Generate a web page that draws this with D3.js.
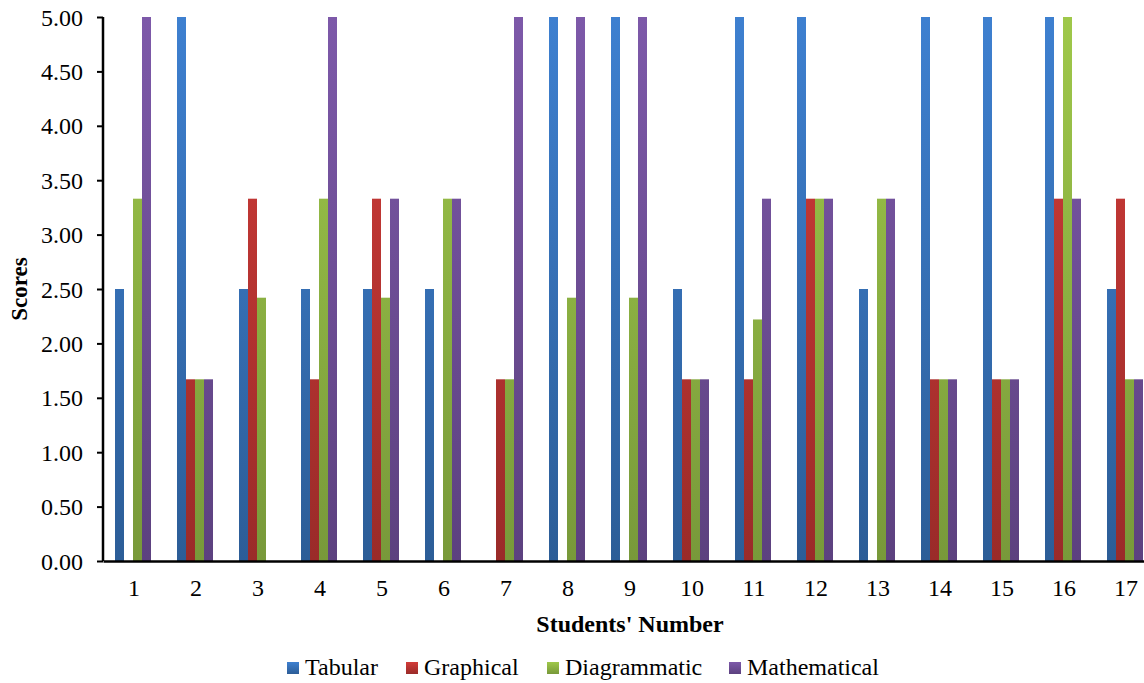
<!DOCTYPE html>
<html><head><meta charset="utf-8">
<script src="https://cdn.jsdelivr.net/npm/d3@7"></script>
<style>body{margin:0;background:#fff}svg{display:block}</style>
</head><body>
<svg id="c" width="1144" height="683"></svg>
<script>
const categories = ["1","2","3","4","5","6","7","8","9","10","11","12","13","14","15","16","17"];
const seriesNames = ["Tabular","Graphical","Diagrammatic","Mathematical"];
const tabular      = [2.5,5,2.5,2.5,2.5,2.5,0,5,5,2.5,5,5,2.5,5,5,5,2.5];
const graphical    = [0,1.67,3.33,1.67,3.33,0,1.67,0,0,1.67,1.67,3.33,0,1.67,1.67,3.33,3.33];
const diagrammatic = [3.33,1.67,2.42,3.33,2.42,3.33,1.67,2.42,2.42,1.67,2.22,3.33,3.33,1.67,1.67,5,1.67];
const mathematical = [5,1.67,0,5,3.33,3.33,5,5,5,1.67,3.33,3.33,3.33,1.67,1.67,3.33,1.67];
const yTicks = [0,0.5,1,1.5,2,2.5,3,3.5,4,4.5,5];
const seriesValues = [tabular, graphical, diagrammatic, mathematical];
const colorsTop = ["#3e80d0","#d23c39","#9fc84a","#7d59a9"];
const colorsBot = ["#2c5d97","#9a2b29","#78993a","#5c417f"];

const svg = d3.select("#c");
const x0 = 103, yTop = 17, yBot = 561;
const x = d3.scaleBand().domain(categories).range([x0, x0 + 17*62]).paddingInner(0).paddingOuter(0);
const y = d3.scaleLinear().domain([0,5]).range([yBot, yTop]);
const barW = 9;
const xs = d3.scaleBand().domain(seriesNames).range([0, barW*4]);

const defs = svg.append("defs");
seriesNames.forEach((s,i)=>{
  const g = defs.append("linearGradient").attr("id","g"+i).attr("x1",0).attr("x2",0)
    .attr("gradientUnits","userSpaceOnUse").attr("y1",yTop).attr("y2",yBot);
  g.append("stop").attr("offset",0).attr("stop-color",colorsTop[i]);
  g.append("stop").attr("offset",1).attr("stop-color",colorsBot[i]);
  const lg = defs.append("linearGradient").attr("id","l"+i).attr("x1",0).attr("y1",0).attr("x2",0).attr("y2",1);
  lg.append("stop").attr("offset",0).attr("stop-color",colorsTop[i]);
  lg.append("stop").attr("offset",1).attr("stop-color",colorsBot[i]);
});

const groups = svg.append("g").selectAll("g").data(categories).join("g")
  .attr("transform", d => `translate(${x(d) + x.bandwidth()/2 - barW*2 - 1},0)`);
groups.selectAll("rect").data((d,ci)=>seriesNames.map((s,si)=>({s,si,v:seriesValues[si][ci]})))
  .join("rect")
  .attr("x", d=>xs(d.s)).attr("width", barW)
  .attr("y", d=>y(d.v)).attr("height", d=>yBot - y(d.v))
  .attr("fill", d=>`url(#g${d.si})`);

// Y axis
const ya = svg.append("g").attr("transform",`translate(${x0},0)`)
  .call(d3.axisLeft(y).tickValues(yTicks).tickFormat(d3.format(".2f")).tickSize(6).tickPadding(14));
ya.select(".domain").attr("stroke","#000").attr("stroke-width",2.5).attr("d",`M0,${yTop}V${yBot}`);
ya.selectAll(".tick line").attr("stroke","#000").attr("stroke-width",2);
ya.selectAll("text").style("font-size","24px").attr("dy","0.34em");

// X axis
const xa = svg.append("g").attr("transform",`translate(0,${yBot})`)
  .call(d3.axisBottom(x).tickSize(0).tickPadding(18));
xa.select(".domain").attr("stroke","#000").attr("stroke-width",2.5);
xa.selectAll("text").style("font-size","24px");

svg.append("text").attr("transform","translate(27,289) rotate(-90)").attr("text-anchor","middle")
  .style("font-size","23px").style("font-weight","bold").text("Scores");
svg.append("text").attr("x",630).attr("y",632).attr("text-anchor","middle")
  .style("font-size","24px").style("font-weight","bold").text("Students' Number");

// Legend
const legX = [287, 406, 547, 729];
const leg = svg.append("g");
seriesNames.forEach((s,i)=>{
  leg.append("rect").attr("x",legX[i]).attr("y",662).attr("width",12).attr("height",12).attr("fill",`url(#l${i})`);
  leg.append("text").attr("x",legX[i]+18).attr("y",675).style("font-size","24px").text(s);
});

svg.selectAll("text").style("font-family",'"Liberation Serif"').attr("fill","#000");
</script>
</body></html>
